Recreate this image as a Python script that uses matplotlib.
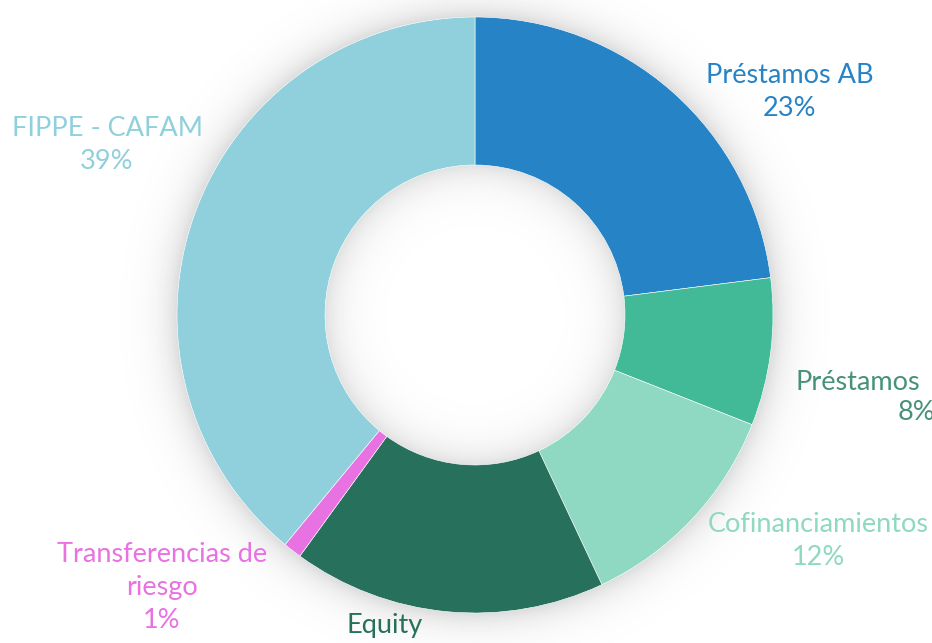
import numpy as np
import matplotlib
matplotlib.use("Agg")
import matplotlib.pyplot as plt

# data
categories = ["Préstamos AB", "Préstamos", "Cofinanciamientos", "Equity",
              "Transferencias de\nriesgo", "FIPPE - CAFAM"]
shares = [23, 8, 12, 17, 1, 39]
slice_colors = ["#2683C6", "#42BA97", "#8FD8C1", "#27705B", "#E872E2", "#8FD0DC"]
text_colors = ["#2683C6", "#47917A", "#8FD8C1", "#27705B", "#E872E2", "#8FD0DC"]

W, H = 932, 643
cx, cy = 475, H - 315
r_out, r_in = 298, 150

fig = plt.figure(figsize=(W / 100, H / 100), dpi=100)
ax = fig.add_axes([0, 0, 1, 1])

# soft shadow around the ring and inside the hole
yy, xx = np.mgrid[0:H, 0:W]
d = np.hypot(xx + 0.5 - cx, (H - yy - 0.5) - cy)
shade = np.zeros_like(d)
outside = d > r_out
shade[outside] = 0.14 * np.exp(-(d[outside] - r_out) / 16)
inside = d < r_in
shade[inside] = 0.12 * np.exp(-(r_in - d[inside]) / 18)
ax.imshow(1 - shade, cmap="gray", vmin=0, vmax=1, extent=(0, W, 0, H),
          origin="upper", zorder=0, interpolation="bilinear")

ax.pie(shares, colors=slice_colors, startangle=90, counterclock=False,
       center=(cx, cy), radius=r_out, frame=True,
       wedgeprops=dict(width=r_out - r_in, edgecolor="white", linewidth=0.4))
ax.set_xlim(0, W)
ax.set_ylim(0, H)
ax.set_aspect("equal")
ax.axis("off")

font = dict(family="Lato", fontsize=19.5)
# label positions (pixel centres from top-left) and text
labels = [
    (0, 790, 92, "Préstamos AB\n23%"),
    (2, 818, 541, "Cofinanciamientos\n12%"),
    (3, 385, 626, "Equity"),
    (4, 162, 588, "Transferencias de\nriesgo\n1%"),
    (5, 107, 145, "FIPPE - CAFAM\n39%"),
]
for i, x, y, s in labels:
    ax.text(x, H - y, s, ha="center", va="center", color=text_colors[i],
            multialignment="center", linespacing=1.4, **font)

# label of the small "Préstamos" slice runs past the right edge
ax.text(795, H - 382, "Préstamos", ha="left", va="center",
        color=text_colors[1], **font)
ax.text(898, H - 413, "8%", ha="left", va="center",
        color=text_colors[1], **font)

fig.savefig("out.png", dpi=100)
